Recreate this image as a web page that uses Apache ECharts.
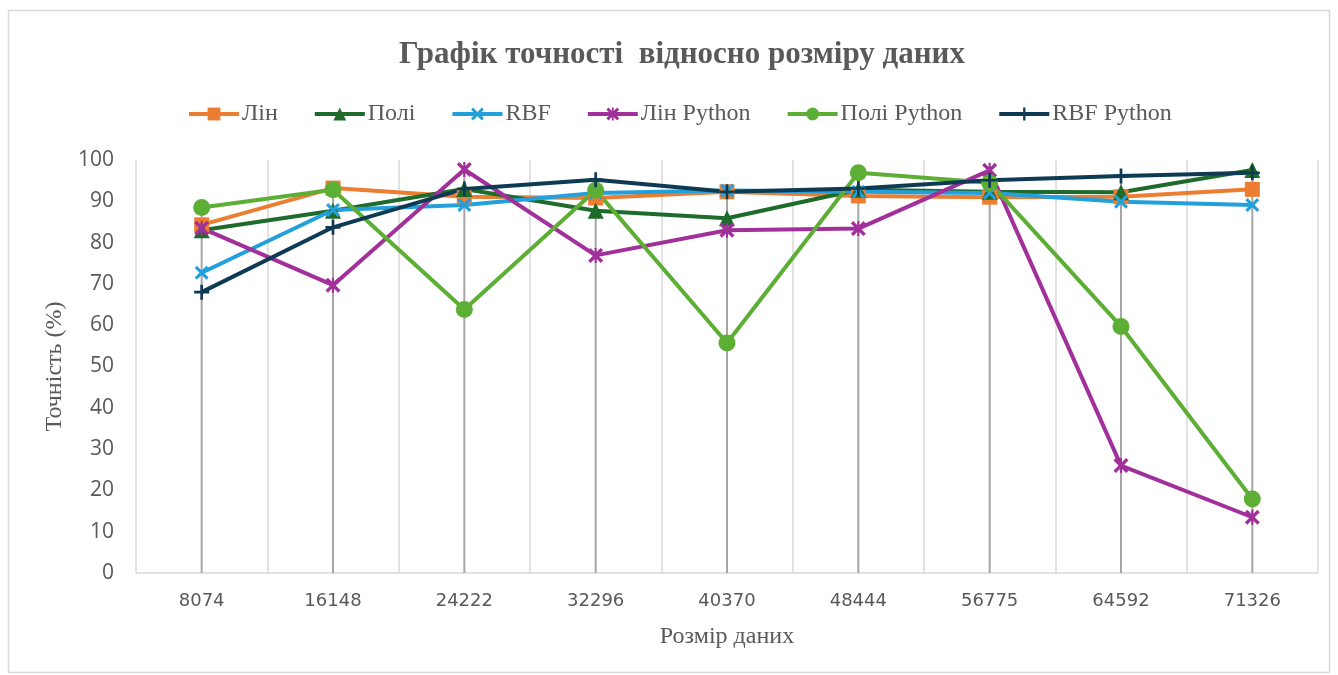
<!DOCTYPE html>
<html>
<head>
<meta charset="utf-8">
<script src="https://cdn.jsdelivr.net/npm/echarts@6/dist/echarts.min.js"></script>
<style>html,body{margin:0;padding:0;background:#fff}#c{width:1338px;height:675px}</style>
</head>
<body>
<div id="c"></div>
<script>
const categories = ['8074','16148','24222','32296','40370','48444','56775','64592','71326'];
const seriesNames = ['Лін','Полі','RBF','Лін Python','Полі Python','RBF Python'];
const lin    = [84.3, 93.2, 91.1, 90.8, 92.3, 91.3, 91.0, 91.1, 92.9];
const poly   = [83.0, 87.7, 93.0, 87.7, 85.9, 92.8, 92.3, 92.2, 97.6];
const rbf    = [72.7, 87.9, 89.1, 92.0, 92.6, 92.3, 92.0, 89.9, 89.1];
const linPy  = [83.5, 69.7, 97.7, 76.9, 83.0, 83.4, 97.5, 26.0, 13.5];
const polyPy = [88.5, 92.8, 63.8, 92.7, 55.7, 96.9, 94.5, 59.7, 17.9];
const rbfPy  = [68.0, 83.7, 93.0, 95.2, 92.3, 93.1, 95.1, 96.1, 96.9];
const yTicks = {min: 0, max: 100, interval: 10};

const allData = [lin, poly, rbf, linPy, polyPy, rbfPy];
const dropTop = categories.map((c, i) => Math.max(...allData.map(a => a[i])));

const colors = ['#ED7D31', '#1E6B2C', '#22A0DB', '#A2309A', '#5DAE34', '#0E3B53'];
const X = 'M0,1.6L1.6,0L5,3.4L8.4,0L10,1.6L6.6,5L10,8.4L8.4,10L5,6.6L1.6,10L0,8.4L3.4,5Z';
const symbols = [
  'rect',
  'triangle',
  'path://' + X,
  'path://' + X + 'M4.3,0L5.7,0L5.7,10L4.3,10Z',
  'circle',
  'path://M4.1,0H5.9V4.1H10V5.9H5.9V10H4.1V5.9H0V4.1H4.1Z'
];
const sizes = [15, 16, 14, 15, 17, 15];

const lineSeries = seriesNames.map((n, i) => ({
  name: n,
  type: 'line',
  data: allData[i],
  symbol: symbols[i],
  symbolSize: sizes[i],
  showAllSymbol: true,
  z: 3,
  lineStyle: {width: 4, color: colors[i]},
  itemStyle: {color: colors[i]},
  emphasis: {disabled: true}
}));

const chart = echarts.init(document.getElementById('c'));
chart.setOption({
  animation: false,
  backgroundColor: '#fff',
  title: {
    text: 'Графік точності  відносно розміру даних',
    left: 394,
    top: 34,
    textStyle: {fontFamily: 'Liberation Serif', fontWeight: 'bold', fontSize: 31, color: '#595959'}
  },
  legend: {
    data: seriesNames,
    top: 97,
    left: 182,
    itemGap: 35,
    itemWidth: 50,
    itemHeight: 16,
    lineStyle: {width: 4},
    textStyle: {fontFamily: 'Liberation Serif', fontSize: 24, color: '#595959', padding: [0, 0, 0, -2]}
  },
  grid: {left: 136, right: 20, top: 160, bottom: 102},
  xAxis: {
    type: 'category',
    data: categories,
    boundaryGap: true,
    name: 'Розмір даних',
    nameLocation: 'middle',
    nameGap: 52,
    nameTextStyle: {fontFamily: 'Liberation Serif', fontSize: 24, color: '#595959'},
    axisLine: {lineStyle: {color: '#d9d9d9', width: 1.5}},
    axisTick: {show: false},
    axisLabel: {margin: 19, fontFamily: 'DejaVu Sans', fontSize: 18, color: '#595959'},
    splitLine: {show: true, lineStyle: {color: '#d9d9d9', width: 1.5}}
  },
  yAxis: {
    type: 'value',
    min: yTicks.min, max: yTicks.max, interval: yTicks.interval,
    name: 'Точність (%)',
    nameLocation: 'middle',
    nameGap: 62,
    nameRotate: 90,
    nameTextStyle: {fontFamily: 'Liberation Serif', fontSize: 24, color: '#595959'},
    axisLine: {show: false},
    axisTick: {show: false},
    axisLabel: {margin: 22, fontFamily: 'Open Sans', fontSize: 21, color: '#595959'},
    splitLine: {show: false}
  },
  series: [{
    name: 'drop',
    type: 'bar',
    data: dropTop,
    barWidth: 2,
    silent: true,
    z: 1,
    itemStyle: {color: '#a6a6a6'}
  }].concat(lineSeries),
  graphic: [{
    type: 'rect',
    shape: {x: 8.5, y: 10.5, width: 1321, height: 662},
    style: {fill: 'none', stroke: '#d9d9d9', lineWidth: 1.5},
    silent: true,
    z: -10
  }]
});
</script>
</body>
</html>
